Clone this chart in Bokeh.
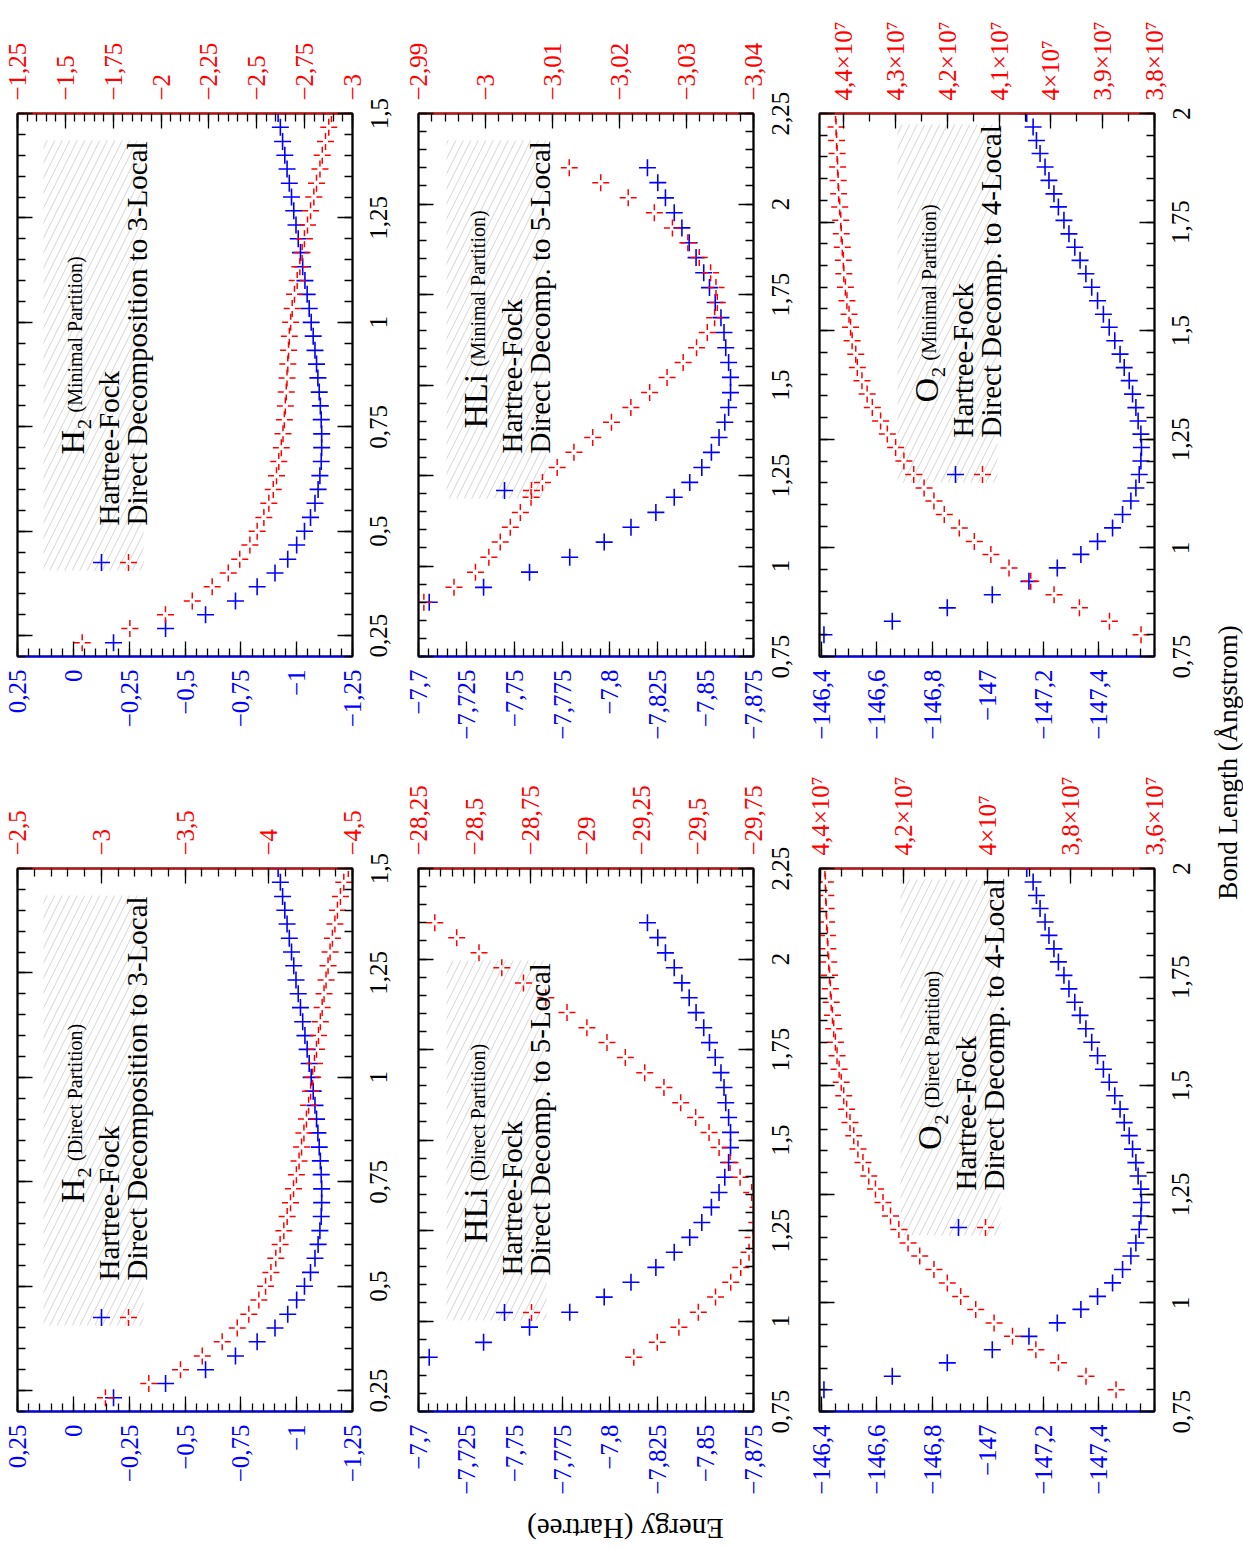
import math
from bokeh.plotting import figure
from bokeh.models import Range1d, LinearAxis, FixedTicker, Label
from bokeh.layouts import row, column
from bokeh.core.properties import value
from bokeh.embed import file_html
from bokeh.resources import INLINE

FONT = "Liberation Serif"
BLUE = "#0000ff"
RED = "#ff0000"

# ---------------- data ----------------
h2_bond = [0.233, 0.267, 0.3, 0.333, 0.367, 0.4, 0.433, 0.467, 0.5, 0.533, 0.567, 0.6, 0.633,
           0.667, 0.7, 0.733, 0.767, 0.8, 0.833, 0.867, 0.9, 0.933, 0.967, 1.0, 1.033, 1.067,
           1.1, 1.133, 1.167, 1.2, 1.233, 1.267, 1.3, 1.333, 1.367, 1.4, 1.433, 1.467, 1.5]
h2_hf = [-0.18, -0.413, -0.592, -0.726, -0.823, -0.903, -0.96, -1.0, -1.035, -1.062, -1.082,
         -1.096, -1.104, -1.11, -1.112, -1.112, -1.11, -1.106, -1.101, -1.095, -1.089, -1.082,
         -1.074, -1.065, -1.056, -1.047, -1.037, -1.027, -1.017, -1.007, -0.997, -0.987, -0.977,
         -0.967, -0.957, -0.947, -0.937, -0.927, -0.917]
h2_min_dd = [-1.588, -1.837, -2.023, -2.163, -2.267, -2.351, -2.411, -2.464, -2.502, -2.537,
             -2.563, -2.586, -2.603, -2.615, -2.628, -2.637, -2.644, -2.649, -2.654, -2.658,
             -2.662, -2.666, -2.67, -2.677, -2.685, -2.697, -2.711, -2.725, -2.737, -2.749,
             -2.765, -2.781, -2.798, -2.812, -2.83, -2.842, -2.859, -2.876, -2.89]
h2_dir_dd = [-3.025, -3.284, -3.473, -3.603, -3.722, -3.812, -3.881, -3.941, -3.981, -4.013,
             -4.042, -4.068, -4.09, -4.11, -4.13, -4.148, -4.165, -4.181, -4.196, -4.21, -4.225,
             -4.238, -4.25, -4.262, -4.273, -4.285, -4.297, -4.308, -4.319, -4.33, -4.342,
             -4.354, -4.366, -4.38, -4.395, -4.41, -4.428, -4.448, -4.475]

hli_bond = [0.9, 0.941, 0.983, 1.024, 1.066, 1.107, 1.148, 1.19, 1.231, 1.272, 1.314, 1.355,
            1.397, 1.438, 1.479, 1.521, 1.562, 1.603, 1.645, 1.686, 1.728, 1.769, 1.81, 1.852,
            1.893, 1.934, 1.976, 2.017, 2.059, 2.1]
hli_hf = [-7.7056, -7.734, -7.758, -7.779, -7.797, -7.811, -7.824, -7.8336, -7.8417, -7.848,
          -7.853, -7.857, -7.86, -7.862, -7.863, -7.863, -7.862, -7.8605, -7.8596, -7.858,
          -7.855, -7.852, -7.849, -7.845, -7.8414, -7.8376, -7.8336, -7.829, -7.825, -7.8196]
hli_min_dd = [-2.9908, -2.9953, -2.9985, -3.0005, -3.0022, -3.0037, -3.0052, -3.0068, -3.0085,
              -3.0107, -3.0132, -3.016, -3.0188, -3.0217, -3.0245, -3.0271, -3.0295, -3.0315,
              -3.0331, -3.0342, -3.0346, -3.0344, -3.0336, -3.0319, -3.0302, -3.0279, -3.0252,
              -3.0213, -3.0172, -3.0125]
hli_dir_dd = [-29.214, -29.319, -29.416, -29.503, -29.58, -29.648, -29.693, -29.73, -29.748,
              -29.765, -29.77, -29.742, -29.69, -29.645, -29.596, -29.551, -29.491, -29.424,
              -29.349, -29.263, -29.176, -29.094, -29.004, -28.915, -28.82, -28.72, -28.623,
              -28.521, -28.421, -28.323]

o2_bond = [0.8, 0.831, 0.862, 0.892, 0.923, 0.954, 0.985, 1.015, 1.046, 1.077, 1.108, 1.138,
           1.169, 1.2, 1.231, 1.262, 1.292, 1.323, 1.354, 1.385, 1.415, 1.446, 1.477, 1.508,
           1.538, 1.569, 1.6, 1.631, 1.662, 1.692, 1.723, 1.754, 1.785, 1.815, 1.846, 1.877,
           1.908, 1.938, 1.969, 2.0]
o2_hf = [-146.41, -146.656, -146.854, -147.016, -147.148, -147.25, -147.335, -147.395, -147.449,
         -147.485, -147.515, -147.533, -147.545, -147.551, -147.553, -147.551, -147.541, -147.533,
         -147.521, -147.509, -147.491, -147.476, -147.457, -147.437, -147.416, -147.395, -147.374,
         -147.353, -147.332, -147.313, -147.292, -147.274, -147.254, -147.238, -147.22, -147.206,
         -147.188, -147.175, -147.163, -147.14]
o2_min_dd = [3.826e7, 3.887e7, 3.945e7, 3.994e7, 4.039e7, 4.081e7, 4.116e7, 4.148e7, 4.177e7,
             4.206e7, 4.226e7, 4.245e7, 4.265e7, 4.284e7, 4.3e7, 4.316e7, 4.329e7, 4.345e7,
             4.355e7, 4.365e7, 4.374e7, 4.377e7, 4.384e7, 4.387e7, 4.39e7, 4.394e7, 4.397e7,
             4.4e7, 4.401e7, 4.403e7, 4.405e7, 4.406e7, 4.408e7, 4.41e7, 4.411e7, 4.412e7,
             4.413e7, 4.414e7, 4.415e7, 4.416e7]
o2_dir_dd = [3.692e7, 3.764e7, 3.83e7, 3.884e7, 3.94e7, 3.984e7, 4.028e7, 4.064e7, 4.096e7,
             4.128e7, 4.162e7, 4.19e7, 4.212e7, 4.232e7, 4.25e7, 4.268e7, 4.284e7, 4.298e7,
             4.31e7, 4.32e7, 4.329e7, 4.337e7, 4.344e7, 4.35e7, 4.355e7, 4.36e7, 4.364e7,
             4.368e7, 4.371e7, 4.374e7, 4.376e7, 4.378e7, 4.38e7, 4.382e7, 4.383e7, 4.385e7,
             4.386e7, 4.387e7, 4.388e7, 4.389e7]

# ---------------- helpers ----------------
FW, FH = 335, 543          # frame size of each panel
BTOP, BBOT = 113, 99       # borders above / below the frame
PW = 367                   # panel canvas width (17 + 335 + 15)
SW = 34                    # strip holding the bond-length tick labels
MS = 17                    # marker size


def fmt_num(v):
    s = f"{abs(v):.4f}".rstrip("0").rstrip(".")
    if s == "":
        s = "0"
    sign = "\u2212" if (v < 0 and s != "0") else ""
    return sign + s.replace(".", ",")


def tick_label(v, sci):
    if sci:
        m = fmt_num(v / 1e7)
        return ("" if m == "1" else m + "\u00d7") + "10\u2077"
    return fmt_num(v)


def tick_list(a, b, step):
    lo, hi = min(a, b), max(a, b)
    n = int(math.floor((hi - lo) / step + 1e-6))
    return [round(lo + i * step, 9) for i in range(n + 1)]


def style_axis(ax, line_color, label_color, show_labels=True):
    ax.major_tick_in = 15
    ax.major_tick_out = 0
    ax.minor_tick_in = 8
    ax.minor_tick_out = 0
    ax.major_tick_line_color = "black"
    ax.minor_tick_line_color = "black"
    ax.major_tick_line_width = 1.3
    ax.minor_tick_line_width = 1.3
    ax.axis_line_color = line_color
    ax.axis_line_width = 1.8
    ax.major_label_text_font = FONT
    ax.major_label_text_color = label_color
    ax.major_label_text_font_size = "25px" if show_labels else "0px"
    ax.major_label_orientation = math.pi / 2
    ax.major_label_standoff = 13 if show_labels else 0


def panel(spec):
    xb, xr, yr = spec["xblue"], spec["xred"], spec["ybond"]
    p = figure(width=PW, height=BTOP + FH + BBOT, min_border_left=17, min_border_right=PW - 17 - FW,
               min_border_top=BTOP, min_border_bottom=BBOT,
               x_range=Range1d(*xb), y_range=Range1d(*yr),
               x_axis_type=None, y_axis_type=None,
               output_backend="svg", toolbar_location=None)
    p.extra_x_ranges = {"red": Range1d(*xr)}
    p.outline_line_color = "black"
    p.outline_line_width = 1.8
    p.background_fill_color = "white"
    p.border_fill_color = "white"

    # blue (Hartree-Fock) axis below
    bmaj = tick_list(spec["bmaj"][0], spec["bmaj"][1], spec["bmaj"][2])
    bmin = tick_list(xb[0], xb[1], spec["bmin"])
    axb = LinearAxis(ticker=FixedTicker(ticks=bmaj, minor_ticks=bmin),
                     major_label_overrides={t: tick_label(t, False) for t in bmaj})
    style_axis(axb, BLUE, BLUE)
    p.add_layout(axb, "below")

    # red (direct decomposition) axis above
    rmaj = tick_list(spec["rmaj"][0], spec["rmaj"][1], spec["rmaj"][2])
    rmin = tick_list(xr[0], xr[1], spec["rmin"])
    axr = LinearAxis(x_range_name="red", ticker=FixedTicker(ticks=rmaj, minor_ticks=rmin),
                     major_label_overrides={t: tick_label(t, spec["sci"]) for t in rmaj})
    style_axis(axr, "#c81010", RED)
    p.add_layout(axr, "above")

    # bond length tick marks on both vertical edges
    ymaj = tick_list(spec["ymaj"][0], spec["ymaj"][1], 0.25)
    ymin = tick_list(yr[0], yr[1], 0.05)
    for side in ("right", "left"):
        ax = LinearAxis(ticker=FixedTicker(ticks=ymaj, minor_ticks=ymin),
                        major_label_overrides={t: "" for t in ymaj})
        style_axis(ax, "black", "black", show_labels=False)
        p.add_layout(ax, side)

    # pixel -> data helpers inside the frame
    def X(dx):
        return xb[0] + dx * (xb[1] - xb[0]) / FW

    def Y(dy):
        return yr[1] - dy * (yr[1] - yr[0]) / FH

    # legend box (hatched)
    bx, bt, bb = spec["box"]
    p.quad(left=[X(bx)], right=[X(bx + 100)], top=[Y(bt)], bottom=[Y(bb)],
           fill_color=None, line_color=None, hatch_pattern="/",
           hatch_color="#d4d4d4", hatch_scale=15, hatch_weight=1.0)

    # data
    p.scatter(x=spec["hf"], y=spec["bond"], marker="cross", size=MS,
              line_color=BLUE, line_width=1.6)
    p.scatter(x=spec["dd"], y=spec["bond"], marker="cross", size=MS,
              line_color=RED, line_width=1.5, line_dash="6 5", x_range_name="red")

    # legend contents (rotated text)
    big_w, small_w = spec["title_w"]
    gap = 7
    center = (bt + bb) / 2
    start = center + (big_w + gap + small_w) / 2
    p.text(x=[X(bx + 29)], y=[Y(start)], text=[spec["title"]], angle=math.pi / 2,
           text_font=value(FONT), text_font_size="34px", text_align="left",
           text_baseline="alphabetic", text_color="black")
    p.text(x=[X(bx + 31)], y=[Y(start - big_w - gap)], text=[spec["sub"]], angle=math.pi / 2,
           text_font=value(FONT), text_font_size="20px", text_align="left",
           text_baseline="alphabetic", text_color="black")
    p.text(x=[X(bx + 65), X(bx + 93)], y=[Y(bb - 45), Y(bb - 45)],
           text=["Hartree-Fock", spec["row3"]], angle=math.pi / 2,
           text_font=value(FONT), text_font_size="29px", text_align="left",
           text_baseline="alphabetic", text_color="black")
    p.scatter(x=[X(bx + 58)], y=[Y(bb - 8)], marker="cross", size=MS,
              line_color=BLUE, line_width=1.6)
    p.scatter(x=[X(bx + 85)], y=[Y(bb - 8)], marker="cross", size=MS,
              line_color=RED, line_width=1.5, line_dash="6 5")

    # narrow strip to the right sharing the bond-length range: its left axis carries
    # the bond-length tick labels, centred on the ticks and reading upwards
    s = figure(width=SW, height=BTOP + FH + BBOT, min_border_left=0, min_border_right=0,
               min_border_top=BTOP, min_border_bottom=BBOT,
               x_range=Range1d(0, 1), y_range=p.y_range,
               x_axis_type=None, y_axis_type=None,
               output_backend="svg", toolbar_location=None)
    s.outline_line_color = None
    s.background_fill_color = "white"
    s.border_fill_color = "white"
    axs = LinearAxis(ticker=FixedTicker(ticks=ymaj, minor_ticks=[]),
                     major_label_overrides={t: tick_label(t, False) for t in ymaj})
    axs.major_tick_in = 0
    axs.major_tick_out = 0
    axs.minor_tick_in = 0
    axs.minor_tick_out = 0
    axs.axis_line_color = None
    axs.major_tick_line_color = None
    axs.minor_tick_line_color = None
    axs.major_label_text_font = FONT
    axs.major_label_text_font_size = "25px"
    axs.major_label_text_color = "black"
    axs.major_label_orientation = "vertical"
    axs.major_label_standoff = 0
    s.add_layout(axs, "left")
    return row(p, s)


specs = [
    dict(xblue=(0.25, -1.25), xred=(-1.25, -3.0), ybond=(0.2, 1.5),
         bmaj=(-1.25, 0.25, 0.25), bmin=0.05, rmaj=(-3.0, -1.25, 0.25), rmin=0.05, sci=False,
         ymaj=(0.25, 1.5), bond=h2_bond, hf=h2_hf, dd=h2_min_dd,
         box=(26, 27, 457), title="H\u2082", sub="(Minimal Partition)", title_w=(35, 156),
         row3="Direct Decomposition to 3-Local"),
    dict(xblue=(-7.7, -7.875), xred=(-2.99, -3.04), ybond=(0.75, 2.25),
         bmaj=(-7.875, -7.7, 0.025), bmin=0.005, rmaj=(-3.04, -2.99, 0.01), rmin=0.002, sci=False,
         ymaj=(0.75, 2.25), bond=hli_bond, hf=hli_hf, dd=hli_min_dd,
         box=(28, 27, 385), title="HLi", sub="(Minimal Partition)", title_w=(55, 156),
         row3="Direct Decomp. to 5-Local"),
    dict(xblue=(-146.394, -147.6), xred=(4.447e7, 3.8e7), ybond=(0.75, 2.0),
         bmaj=(-147.4, -146.4, 0.2), bmin=0.05, rmaj=(3.8e7, 4.4e7, 1e6), rmin=5e5, sci=True,
         ymaj=(0.75, 2.0), bond=o2_bond, hf=o2_hf, dd=o2_min_dd,
         box=(78, 11, 369), title="O\u2082", sub="(Minimal Partition)", title_w=(35, 156),
         row3="Direct Decomp. to 4-Local"),
    dict(xblue=(0.25, -1.25), xred=(-2.5, -4.5), ybond=(0.2, 1.5),
         bmaj=(-1.25, 0.25, 0.25), bmin=0.05, rmaj=(-4.5, -2.5, 0.5), rmin=0.1, sci=False,
         ymaj=(0.25, 1.5), bond=h2_bond, hf=h2_hf, dd=h2_dir_dd,
         box=(26, 27, 457), title="H\u2082", sub="(Direct Partition)", title_w=(35, 143),
         row3="Direct Decomposition to 3-Local"),
    dict(xblue=(-7.7, -7.875), xred=(-28.25, -29.75), ybond=(0.75, 2.25),
         bmaj=(-7.875, -7.7, 0.025), bmin=0.005, rmaj=(-29.75, -28.25, 0.25), rmin=0.05, sci=False,
         ymaj=(0.75, 2.25), bond=hli_bond, hf=hli_hf, dd=hli_dir_dd,
         box=(28, 92, 452), title="HLi", sub="(Direct Partition)", title_w=(55, 143),
         row3="Direct Decomp. to 5-Local"),
    dict(xblue=(-146.394, -147.6), xred=(4.402e7, 3.6e7), ybond=(0.75, 2.0),
         bmaj=(-147.4, -146.4, 0.2), bmin=0.05, rmaj=(3.6e7, 4.4e7, 2e6), rmin=5e5, sci=True,
         ymaj=(0.75, 2.0), bond=o2_bond, hf=o2_hf, dd=o2_dir_dd,
         box=(81, 11, 367), title="O\u2082", sub="(Direct Partition)", title_w=(35, 143),
         row3="Direct Decomp. to 4-Local"),
]

panels = [panel(s) for s in specs]

# bottom strip with the energy title (upside down, as in the reference)
GW = 3 * (PW + SW)
bottom = figure(width=GW, height=40, x_range=Range1d(0, GW),
                y_range=Range1d(0, 40), x_axis_type=None, y_axis_type=None, min_border=0,
                output_backend="svg", toolbar_location=None)
bottom.outline_line_color = None
bottom.add_layout(Label(x=625, y=22, text="Energy (Hartree)", angle=math.pi,
                        text_font=FONT, text_font_size="29px", text_align="center",
                        text_baseline="middle", text_color="black"))

# right strip with the bond-length title
side = figure(width=40, height=1550, x_range=Range1d(0, 40), y_range=Range1d(0, 1550),
              x_axis_type=None, y_axis_type=None, min_border=0,
              output_backend="svg", toolbar_location=None)
side.outline_line_color = None
side.add_layout(Label(x=24, y=788, text="Bond Length (\u00c5ngstrom)", angle=math.pi / 2,
                      text_font=FONT, text_font_size="27px", text_align="center",
                      text_baseline="middle", text_color="black"))

layout = row(column(row(*panels[:3]), row(*panels[3:]), bottom), side)

open("out.html", "w").write(file_html(layout, INLINE))
